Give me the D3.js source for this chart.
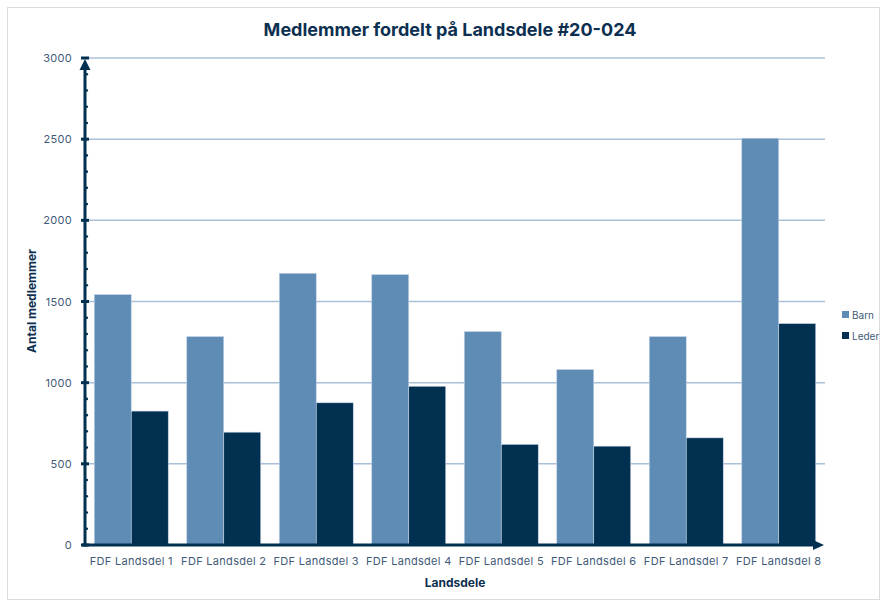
<!DOCTYPE html>
<html><head><meta charset="utf-8">
<script src="https://cdn.jsdelivr.net/npm/d3@7/dist/d3.min.js"></script>
<style>body{margin:0;background:#fff;}svg{display:block;}</style>
</head><body>
<svg id="c" width="884" height="603"></svg>
<script>
const categories = ["FDF Landsdel 1","FDF Landsdel 2","FDF Landsdel 3","FDF Landsdel 4","FDF Landsdel 5","FDF Landsdel 6","FDF Landsdel 7","FDF Landsdel 8"];
const seriesNames = ["Barn","Leder"];
const barn  = [1543, 1284, 1674, 1666, 1315, 1081, 1284, 2506];
const leder = [825, 695, 876, 978, 620, 609, 660, 1364];
const yTicks = [0, 500, 1000, 1500, 2000, 2500, 3000];
const colors = ["#5f8cb5", "#023051"];

(function(){
const svg = d3.select("#c");
const navy = "#0d2f50";
const tickColor = "#3f5a78";
const font = "Inter, 'Noto Sans', sans-serif";

svg.append("rect").attr("x",7.5).attr("y",7.5).attr("width",872).attr("height",592)
  .attr("fill","#fff").attr("stroke","#dcdcdc").attr("stroke-width",1);

const mLeft = 85, mRight = 825, mTop = 58, mBottom = 545;
const x = d3.scaleBand().domain(categories).range([mLeft, mRight]).paddingInner(0.2).paddingOuter(0.1);
const xs = d3.scaleBand().domain(seriesNames).range([0, x.bandwidth()]);
const y = d3.scaleLinear().domain([0, 3000]).range([mBottom, mTop]);

svg.append("g").selectAll("line").data(yTicks.filter(d=>d>0)).join("line")
  .attr("x1", mLeft).attr("x2", mRight).attr("y1", d=>y(d)).attr("y2", d=>y(d))
  .attr("stroke", "#a9c0d8").attr("stroke-width", 1.5);

const data = categories.map((c,i)=>({c, vals:[barn[i], leder[i]]}));
const g = svg.append("g");
data.forEach(d=>{
  d.vals.forEach((v,j)=>{
    g.append("rect")
      .attr("x", x(d.c) + xs(seriesNames[j]))
      .attr("y", y(v))
      .attr("width", xs.bandwidth())
      .attr("height", y(0) - y(v))
      .attr("fill", colors[j])
      .attr("stroke", "#c6d6e6").attr("stroke-width", 0.6);
  });
});

const yAxis = d3.axisLeft(y).tickValues(yTicks).tickFormat(d3.format("d")).tickSize(0).tickPadding(13);
const ya = svg.append("g").attr("transform", `translate(${mLeft},0)`).call(yAxis);
ya.select(".domain").remove();
ya.selectAll("text").attr("fill", tickColor).style("font-family", font).style("font-size", "11px").style("letter-spacing","0.3px");
svg.append("g").selectAll("circle").data(d3.range(100, 3000, 100).filter(d=>d%500!==0)).join("circle")
  .attr("cx", mLeft+1.8).attr("cy", d=>y(d)).attr("r", 1.3).attr("fill", "#023051");
svg.append("g").selectAll("line").data(yTicks).join("line")
  .attr("x1", mLeft-4).attr("x2", mLeft+4).attr("y1", d=>y(d)).attr("y2", d=>y(d))
  .attr("stroke", "#023051").attr("stroke-width", 3);
svg.append("line").attr("x1", mLeft).attr("x2", mLeft).attr("y1", mBottom+1.5).attr("y2", mTop+8)
  .attr("stroke", "#023051").attr("stroke-width", 3);
svg.append("path").attr("d", `M${mLeft-5.5},${mTop+12} L${mLeft},${mTop+1} L${mLeft+5.5},${mTop+12} Z`).attr("fill", "#023051");

svg.append("line").attr("x1", mLeft-3).attr("x2", mRight-10).attr("y1", mBottom).attr("y2", mBottom)
  .attr("stroke", "#023051").attr("stroke-width", 3.2);
svg.append("path").attr("d", `M${mRight-12},${mBottom-5} L${mRight-1},${mBottom} L${mRight-12},${mBottom+5} Z`).attr("fill", "#023051");
const xAxis = d3.axisBottom(x).tickSize(0).tickPadding(12);
const xa = svg.append("g").attr("transform", `translate(0,${mBottom})`).call(xAxis);
xa.select(".domain").remove();
xa.selectAll("text").attr("fill", tickColor).style("font-family", font).style("font-size", "11px").style("letter-spacing","0.3px");

svg.append("text").attr("x", 450).attr("y", 36).attr("text-anchor","middle")
  .attr("fill", navy).style("font-family", font).style("font-size","18px").style("font-weight","700")
  .text("Medlemmer fordelt på Landsdele #20-024");
svg.append("text").attr("x", 455).attr("y", 587).attr("text-anchor","middle")
  .attr("fill", navy).style("font-family", font).style("font-size","12px").style("font-weight","700")
  .text("Landsdele");
svg.append("text").attr("transform","translate(36,301) rotate(-90)").attr("text-anchor","middle")
  .attr("fill", navy).style("font-family", font).style("font-size","12px").style("font-weight","700")
  .text("Antal medlemmer");

const lg = svg.append("g");
seriesNames.forEach((s,i)=>{
  const yy = 315 + i*21;
  lg.append("rect").attr("x", 842).attr("y", yy-4).attr("width", 7).attr("height", 7).attr("fill", colors[i]);
  lg.append("text").attr("x", 852).attr("y", yy+3.5).attr("fill", tickColor)
    .style("font-family", font).style("font-size","10px").text(s);
});
})();
</script>
</body></html>
